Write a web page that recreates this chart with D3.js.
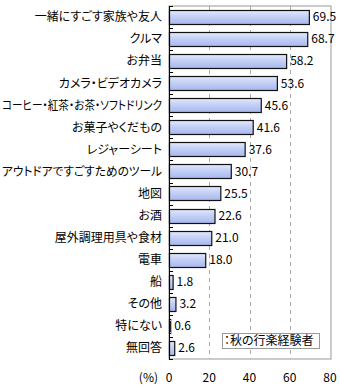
<!DOCTYPE html>
<html><head><meta charset="utf-8">
<script src="https://cdn.jsdelivr.net/npm/d3@7"></script>
<style>
body{margin:0;background:#fff;}
text{font-family:"Noto Sans CJK JP","Noto Sans",sans-serif;}
.cat{font-feature-settings:"palt";}
</style></head>
<body><svg id="c" width="340" height="390"></svg>
<script>
const categories=["一緒にすごす家族や友人","クルマ","お弁当","カメラ・ビデオカメラ","コーヒー・紅茶・お茶・ソフトドリンク","お菓子やくだもの","レジャーシート","アウトドアですごすためのツール","地図","お酒","屋外調理用具や食材","電車","船","その他","特にない","無回答"];
const values=[69.5,68.7,58.2,53.6,45.6,41.6,37.6,30.7,25.5,22.6,21.0,18.0,1.8,3.2,0.6,2.6];
const xTicks=[0,20,40,60,80];
const legendLabel="：秋の行楽経験者";
const unitLabel="(%)";

const svg=d3.select("#c");
const L=169,R=330,T=6,B=359;
const x=d3.scaleLinear().domain([0,80]).range([L,R]);
const y=d3.scaleBand().domain(categories).range([T,B]).paddingInner(0.36).paddingOuter(0.18);

const defs=svg.append("defs");
const g=defs.append("linearGradient").attr("id","bg").attr("x1",0).attr("x2",0).attr("y1",0).attr("y2",1);
g.append("stop").attr("offset","0%").attr("stop-color","#e4eafc");
g.append("stop").attr("offset","35%").attr("stop-color","#c9d4f7");
g.append("stop").attr("offset","100%").attr("stop-color","#a6b7ee");

// frame
svg.append("rect").attr("x",L).attr("y",T).attr("width",R-L+1).attr("height",B-T).attr("fill","none").attr("stroke","#999");
// grid
svg.selectAll(".grid").data(xTicks.filter(d=>d>0&&d<80)).enter().append("line")
 .attr("x1",d=>Math.round(x(d))+0.5).attr("x2",d=>Math.round(x(d))+0.5).attr("y1",T).attr("y2",B)
 .attr("stroke","#aaa").attr("stroke-dasharray","4,4");

// bars
svg.selectAll(".bar").data(values).enter().append("rect")
 .attr("x",L+0.5).attr("y",(d,i)=>Math.round(y(categories[i]))+0.5)
 .attr("width",d=>Math.max(0.5,x(d)-L)).attr("height",Math.round(y.bandwidth()))
 .attr("fill","url(#bg)").attr("stroke","#111").attr("stroke-width",1.2);

// value labels
svg.selectAll(".val").data(values).enter().append("text")
 .attr("x",d=>x(d)+4).attr("y",(d,i)=>y(categories[i])+y.bandwidth()/2)
 .attr("dy","0.36em").attr("font-size",12).attr("fill","#000")
 .attr("font-family","Liberation Sans, Arial, sans-serif")
 .text(d=>d.toFixed(1));

// left axis
svg.append("line").attr("x1",L+0.5).attr("x2",L+0.5).attr("y1",T).attr("y2",B).attr("stroke","#000");
const step=y.step();
svg.selectAll(".tk").data(d3.range(categories.length+1)).enter().append("line")
 .attr("x1",L).attr("x2",L+4).attr("y1",i=>Math.round(T+i*step)+0.5).attr("y2",i=>Math.round(T+i*step)+0.5).attr("stroke","#000");

// category labels
svg.selectAll(".cat").data(categories).enter().append("text").attr("class","cat")
 .attr("x",162).attr("y",d=>y(d)+y.bandwidth()/2).attr("dy","0.36em")
 .attr("text-anchor","end").attr("font-size",12).attr("fill","#000").text(d=>d)
 .each(function(){const w=this.getComputedTextLength(); if(w>160){d3.select(this).attr("textLength",160).attr("lengthAdjust","spacingAndGlyphs");}});

// x tick labels
svg.selectAll(".xt").data(xTicks).enter().append("text")
 .attr("x",d=>x(d)).attr("y",378).attr("dy","0.36em").attr("text-anchor","middle")
 .attr("font-size",12).attr("font-family","Liberation Sans, Arial, sans-serif").text(d=>d);
svg.append("text").attr("x",158).attr("y",378).attr("dy","0.36em").attr("text-anchor","end")
 .attr("font-size",12).text(unitLabel);

// legend
svg.append("rect").attr("x",222.5).attr("y",333.5).attr("width",97).attr("height",15).attr("fill","#fff").attr("stroke","#999");
svg.append("text").attr("x",224).attr("y",341).attr("dy","0.36em").attr("font-size",12).attr("class","cat").text(legendLabel);
</script></body></html>
